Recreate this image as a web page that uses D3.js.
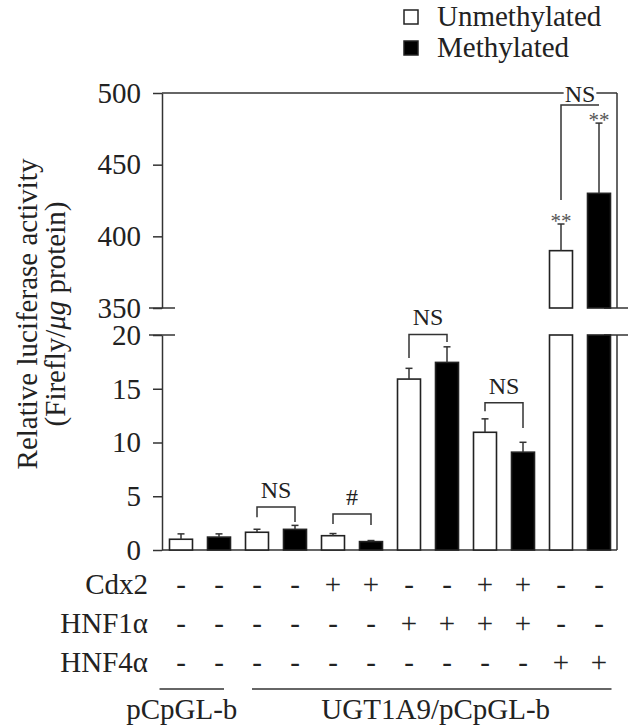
<!DOCTYPE html>
<meta charset="utf-8">
<head>
  <script src="https://d3js.org/d3.v7.min.js"></script>
  <style>
    body { margin: 0; background: white; }
    text { font-family: "Liberation Serif", "Times New Roman", serif; fill: #222; }
  </style>
</head>
<body>
  <div id="chart"></div>
  <script>
    // bar values
    var methylation = ["Unmethylated", "Methylated", "Unmethylated", "Methylated", "Unmethylated", "Methylated",
                       "Unmethylated", "Methylated", "Unmethylated", "Methylated", "Unmethylated", "Methylated"];
    var meanValues = [1.0, 1.2, 1.65, 1.92, 1.33, 0.78, 15.9, 17.45, 10.95, 9.1, 390, 430];
    var semValues = [0.5, 0.3, 0.28, 0.37, 0.2, 0.1, 1.0, 1.45, 1.25, 0.92, 18.6, 49];
    var significance = ["", "", "", "", "", "", "", "", "", "", "**", "**"];

    var cdx2 = ["-", "-", "-", "-", "+", "+", "-", "-", "+", "+", "-", "-"];
    var hnf1a = ["-", "-", "-", "-", "-", "-", "+", "+", "+", "+", "-", "-"];
    var hnf4a = ["-", "-", "-", "-", "-", "-", "-", "-", "-", "-", "+", "+"];
    var rowLabels = ["Cdx2", "HNF1\u03b1", "HNF4\u03b1"];

    var constructs = [
      { label: "pCpGL-b", first: 0, last: 1 },
      { label: "UGT1A9/pCpGL-b", first: 2, last: 11 }
    ];

    var lowerTicks = [0, 5, 10, 15, 20];
    var upperTicks = [350, 400, 450, 500];

    // comparison brackets: bar indices, bracket level and leg ends in data units
    var brackets = [
      { a: 2, b: 3, panel: "lower", top: 4.0, endA: 3.05, endB: 2.6, label: "NS" },
      { a: 4, b: 5, panel: "lower", top: 3.35, endA: 2.42, endB: 2.33, label: "#" },
      { a: 6, b: 7, panel: "lower", top: 20.05, endA: 17.85, endB: 19.35, label: "NS" },
      { a: 8, b: 9, panel: "lower", top: 13.7, endA: 12.9, endB: 11.35, label: "NS" },
      { a: 10, b: 11, panel: "upper", top: 491.6, endA: 425.3, endB: 491.6, label: "NS" }
    ];

    var W = 628, H = 728;
    var ink = "#333";

    var svg = d3.select("#chart").append("svg")
      .attr("width", W)
      .attr("height", H);

    var x = d3.scaleBand()
      .domain(d3.range(meanValues.length))
      .range([162, 618])
      .paddingInner(0.395)
      .paddingOuter(0.1975);
    var bw = x.bandwidth();
    var cx = function (i) { return x(i) + bw / 2; };

    var yLow = d3.scaleLinear().domain([0, 20]).range([550, 335]);
    var yUp = d3.scaleLinear().domain([350, 500]).range([308, 93]);

    var axisX = x.range()[0];
    var rightX = x.range()[1] - 1;

    // axes
    function styleAxis(g) {
      g.selectAll("path, line").attr("stroke", ink).attr("stroke-width", 1.5);
      g.selectAll("text").style("font-size", "29px").attr("fill", "#222")
        .style("font-family", '"Liberation Serif", "Times New Roman", serif');
    }
    svg.append("g")
      .attr("transform", "translate(" + axisX + ",0)")
      .call(d3.axisLeft(yUp).tickValues(upperTicks).tickSize(9).tickPadding(12).tickSizeOuter(0))
      .call(styleAxis);
    svg.append("g")
      .attr("transform", "translate(" + axisX + ",0)")
      .call(d3.axisLeft(yLow).tickValues(lowerTicks).tickSize(9).tickPadding(12).tickSizeOuter(0))
      .call(styleAxis);

    var frame = svg.append("g").attr("stroke", ink).attr("stroke-width", 1.5).attr("fill", "none");

    // break marks on both sides
    [yUp(350), yLow(20)].forEach(function (yy) {
      frame.append("line").attr("x1", axisX - 13).attr("x2", axisX + 13).attr("y1", yy).attr("y2", yy);
      frame.append("line").attr("x1", rightX - 13).attr("x2", rightX + 13).attr("y1", yy).attr("y2", yy);
    });

    // right borders and baseline
    frame.append("line").attr("x1", rightX).attr("x2", rightX).attr("y1", yUp(500)).attr("y2", yUp(350));
    frame.append("line").attr("x1", rightX).attr("x2", rightX).attr("y1", yLow(20)).attr("y2", yLow(0));
    frame.append("line").attr("x1", axisX).attr("x2", rightX).attr("y1", yLow(0)).attr("y2", yLow(0));

    // bars
    var barG = svg.append("g");
    meanValues.forEach(function (v, i) {
      var fill = methylation[i] === "Methylated" ? "#000" : "#fff";
      var lowTop = yLow(Math.min(v, 20));
      barG.append("rect")
        .attr("x", x(i)).attr("y", lowTop)
        .attr("width", bw).attr("height", yLow(0) - lowTop)
        .attr("fill", fill).attr("stroke", "#222").attr("stroke-width", 1.6);
      var yS = yLow, top = v + semValues[i];
      if (v > 20) {
        barG.append("rect")
          .attr("x", x(i)).attr("y", yUp(v))
          .attr("width", bw).attr("height", yUp(350) - yUp(v))
          .attr("fill", fill).attr("stroke", "#222").attr("stroke-width", 1.6);
        yS = yUp;
      }
      barG.append("line")
        .attr("x1", cx(i)).attr("x2", cx(i))
        .attr("y1", yS(v)).attr("y2", yS(top))
        .attr("stroke", ink).attr("stroke-width", 1.5);
      barG.append("line")
        .attr("x1", cx(i) - 3.5).attr("x2", cx(i) + 3.5)
        .attr("y1", yS(top)).attr("y2", yS(top))
        .attr("stroke", ink).attr("stroke-width", 1.5);
      if (significance[i]) {
        barG.append("text")
          .attr("x", cx(i)).attr("y", yS(top) + 4)
          .attr("text-anchor", "middle")
          .style("font-size", "21px").attr("fill", "#555").style("fill", "#555")
          .text(significance[i]);
      }
    });

    // brackets
    var nsTopLabel = null;
    brackets.forEach(function (b) {
      var ys = b.panel === "upper" ? yUp : yLow;
      var path = d3.path();
      path.moveTo(cx(b.a), ys(b.endA));
      path.lineTo(cx(b.a), ys(b.top));
      path.lineTo(cx(b.b), ys(b.top));
      path.lineTo(cx(b.b), ys(b.endB));
      svg.append("path").attr("d", path.toString())
        .attr("fill", "none").attr("stroke", ink).attr("stroke-width", 1.5);
      var t = svg.append("text")
        .attr("x", (cx(b.a) + cx(b.b)) / 2)
        .attr("y", ys(b.top) - (b.panel === "upper" ? 3 : 9))
        .attr("text-anchor", "middle")
        .style("font-size", "24px")
        .text(b.label);
      if (b.panel === "upper") nsTopLabel = t;
    });

    // top frame line, broken where the NS label sits
    var gapL = rightX, gapR = rightX;
    if (nsTopLabel) {
      var bb = nsTopLabel.node().getBBox();
      gapL = bb.x - 1; gapR = bb.x + bb.width + 1;
    }
    frame.append("line").attr("x1", axisX).attr("x2", gapL).attr("y1", yUp(500)).attr("y2", yUp(500));
    frame.append("line").attr("x1", gapR).attr("x2", rightX).attr("y1", yUp(500)).attr("y2", yUp(500));

    // y label
    svg.append("text")
      .attr("transform", "translate(37,314) rotate(-90)")
      .attr("text-anchor", "middle")
      .style("font-size", "29px")
      .text("Relative luciferase activity");
    var yl2 = svg.append("text")
      .attr("transform", "translate(65,314) rotate(-90)")
      .attr("text-anchor", "middle")
      .style("font-size", "29px");
    yl2.append("tspan").text("(Firefly/");
    yl2.append("tspan").style("font-style", "italic").text("\u03bcg");
    yl2.append("tspan").text(" protein)");

    // treatment table
    var rows = [cdx2, hnf1a, hnf4a];
    rows.forEach(function (signs, r) {
      var by = 594 + r * 39;
      svg.append("text")
        .attr("x", 148).attr("y", by)
        .attr("text-anchor", "end")
        .style("font-size", "29px")
        .text(rowLabels[r]);
      svg.selectAll(null)
        .data(signs)
        .enter()
        .append("text")
        .attr("x", function (d, i) { return cx(i); })
        .attr("y", by)
        .attr("text-anchor", "middle")
        .style("font-size", "29px")
        .text(function (d) { return d; });
    });

    // construct groups
    var split = (x(constructs[0].last) + bw + x(constructs[1].first)) / 2;
    constructs.forEach(function (c, k) {
      var x1 = k === 0 ? x(c.first) - 10 : split + 14;
      var x2 = k === constructs.length - 1 ? x(c.last) + bw + 1 : split - 14;
      svg.append("line")
        .attr("x1", x1).attr("x2", x2).attr("y1", 689).attr("y2", 689)
        .attr("stroke", ink).attr("stroke-width", 1.5);
      svg.append("text")
        .attr("x", (x1 + x2) / 2 + (k === 0 ? -10 : 4)).attr("y", 719)
        .attr("text-anchor", "middle")
        .style("font-size", "29px")
        .text(c.label);
    });

    // legend
    var legendItems = ["Unmethylated", "Methylated"];
    legendItems.forEach(function (name, k) {
      svg.append("rect")
        .attr("x", 404).attr("y", 10 + k * 31)
        .attr("width", 14).attr("height", 14)
        .attr("fill", name === "Methylated" ? "#000" : "#fff")
        .attr("stroke", "#222").attr("stroke-width", 1.5);
      svg.append("text")
        .attr("x", 437).attr("y", 26 + k * 31)
        .style("font-size", "29px")
        .text(name);
    });
  </script>
</body>
</html>
